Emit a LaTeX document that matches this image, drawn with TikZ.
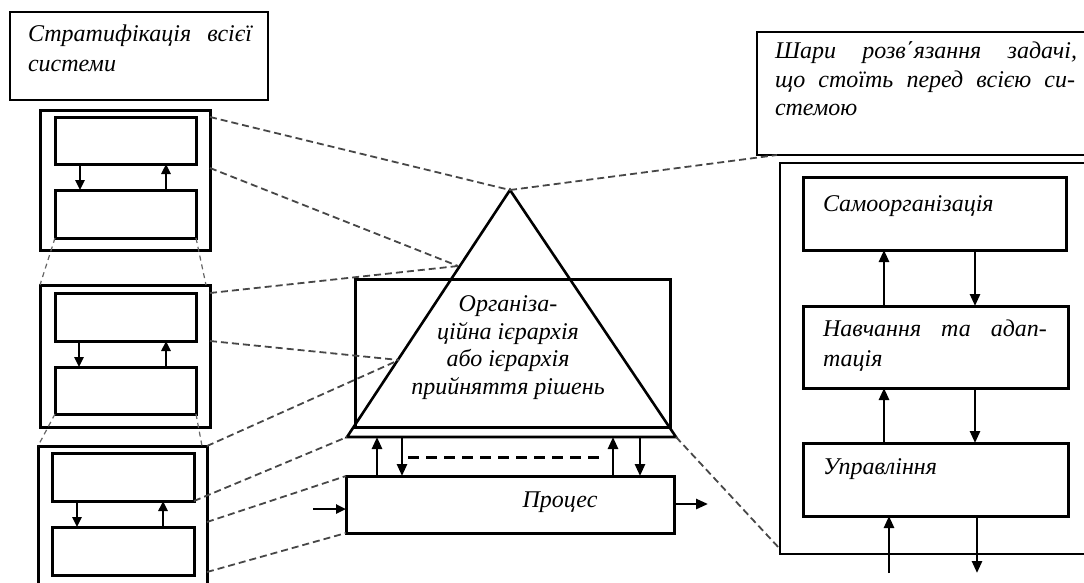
\documentclass[tikz,border=0pt]{standalone}
\usepackage{fontspec}
\setmainfont{Liberation Serif}
\usetikzlibrary{arrows.meta,calc}
\begin{document}
\begin{tikzpicture}[x=1pt,y=-1pt,
  thickbox/.style={draw, line width=3pt, inner sep=0pt, outer sep=0pt, anchor=north west},
  thinbox/.style={draw, line width=1.6pt, inner sep=0pt, outer sep=0pt, anchor=north west},
  conn/.style={line width=2.6pt, -{Triangle[length=12pt,width=10pt]}},
  sconn/.style={line width=2.4pt, -{Triangle[length=10pt,width=9pt]}},
  guide/.style={draw=black!72, line width=1.8pt, dash pattern=on 7pt off 4pt},
  sguide/.style={draw=black!60, line width=1.2pt, dash pattern=on 5pt off 4pt},
  lbl/.style={font=\fontsize{24}{28}\selectfont\itshape, inner sep=0pt, outer sep=0pt}]
\useasboundingbox (0,0) rectangle (1084,582);

% ---------- left column ----------
\node[thinbox, minimum width=258pt, minimum height=88pt] (ltxt) at (10,12) {};
\node[lbl, anchor=base west] (ltxt1) at (28,41) {\makebox[224pt][s]{Стратифікація всієї}};
\node[lbl, anchor=base west] (ltxt2) at (28,71) {системи};

\node[thickbox, minimum width=170pt, minimum height=140pt] (L1) at (40,110) {};
\node[thickbox, minimum width=141pt, minimum height=47pt] (L1a) at (55,117) {};
\node[thickbox, minimum width=141pt, minimum height=48pt] (L1b) at (55,190) {};

\node[thickbox, minimum width=170pt, minimum height=142pt] (L2) at (40,285) {};
\node[thickbox, minimum width=141pt, minimum height=48pt] (L2a) at (55,293) {};
\node[thickbox, minimum width=141pt, minimum height=47pt] (L2b) at (55,367) {};

\node[thickbox, minimum width=169pt, minimum height=150pt] (L3) at (38,446) {};
\node[thickbox, minimum width=142pt, minimum height=48pt] (L3a) at (52,453) {};
\node[thickbox, minimum width=142pt, minimum height=48pt] (L3b) at (52,527) {};

\foreach \b/\dx/\ux in {1/25/111, 2/24/111, 3/25/111}{
  \draw[sconn] ([xshift=\dx pt]L\b a.south west) -- ([xshift=\dx pt]L\b a.south west |- L\b b.north);
  \draw[sconn] ([xshift=\ux pt]L\b b.north west) -- ([xshift=\ux pt]L\b b.north west |- L\b a.south);
}

\draw[sguide] (L1b.south west) -- (L2.north west);
\draw[sguide] (L1b.south east) -- ([xshift=-4pt]L2.north east);
\draw[sguide] (L2b.south west) -- (L3.north west);
\draw[sguide] (L2b.south east) -- ([xshift=-5pt]L3.north east);

% ---------- centre ----------
\coordinate (apex) at (510,190);
\coordinate (tbl) at (347,437);
\coordinate (tbr) at (676,437);
\coordinate (t1) at (458,266);
\coordinate (t2) at (399,360);
\node[thickbox, minimum width=315pt, minimum height=148pt] (C) at (355,279) {};
\draw[line width=2.6pt, line join=miter] (apex) -- (tbl) -- (tbr) -- cycle;

\node[lbl, anchor=base] (c1) at (508,311) {Організа-};
\node[lbl, anchor=base] (c2) at (508,339) {ційна ієрархія};
\node[lbl, anchor=base] (c3) at (508,366) {або ієрархія};
\node[lbl, anchor=base] (c4) at (508,394) {прийняття рішень};

\node[thickbox, minimum width=328pt, minimum height=57pt] (P) at (346,476) {};
\node[lbl, anchor=base] (p1) at (560,507) {Процес};

\draw[conn] ([xshift=31pt]P.north west) -- ([xshift=31pt]P.north west |- tbl);
\draw[conn] ([xshift=56pt]P.north west |- tbl) -- ([xshift=56pt]P.north west);
\draw[conn] ([xshift=267pt]P.north west) -- ([xshift=267pt]P.north west |- tbl);
\draw[conn] ([xshift=294pt]P.north west |- tbl) -- ([xshift=294pt]P.north west);
\draw[line width=3pt, dash pattern=on 11pt off 7pt] ([xshift=62pt,yshift=19pt]P.north west) -- ([xshift=257pt,yshift=19pt]P.north west);
\coordinate (pin) at (313,509);
\draw[sconn] (pin) -- (pin -| P.west);
\draw[conn] ([yshift=-28pt]P.north east) -- ++(34,0);

% ---------- right column ----------
\node[thinbox, minimum width=331pt, minimum height=123pt] (rtxt) at (757,32) {};
\node[lbl, anchor=base west] (r1) at (775,58) {\makebox[302pt][s]{Шари \ розв΄язання \ задачі,}};
\node[lbl, anchor=base west] (r2) at (775,87) {\makebox[300pt][s]{що стоїть перед всією си-}};
\node[lbl, anchor=base west] (r3) at (775,115) {стемою};

\node[thinbox, minimum width=308pt, minimum height=391pt] (R) at (780,163) {};
\node[thickbox, minimum width=263pt, minimum height=73pt] (R1) at (803,177) {};
\node[thickbox, minimum width=265pt, minimum height=82pt] (R2) at (803,306) {};
\node[thickbox, minimum width=265pt, minimum height=73pt] (R3) at (803,443) {};
\node[lbl, anchor=base west] (s1) at (823,211) {Самоорганізація};
\node[lbl, anchor=base west] (s2) at (823,336) {\makebox[224pt][s]{Навчання \ та \ адап-}};
\node[lbl, anchor=base west] (s3) at (823,366) {тація};
\node[lbl, anchor=base west] (s4) at (823,474) {Управління};

\draw[conn] ([xshift=81pt]R2.north west) -- ([xshift=81pt]R2.north west |- R1.south);
\draw[conn] ([xshift=172pt]R1.south west) -- ([xshift=172pt]R1.south west |- R2.north);
\draw[conn] ([xshift=81pt]R3.north west) -- ([xshift=81pt]R3.north west |- R2.south);
\draw[conn] ([xshift=172pt]R2.south west) -- ([xshift=172pt]R2.south west |- R3.north);
\coordinate (rin) at (889,573);
\coordinate (rout) at (977,573);
\draw[conn] (rin) -- (rin |- R3.south);
\draw[conn] (rout |- R3.south) -- (rout);

% ---------- guides ----------
\draw[guide] ([yshift=-7pt]L1.north east) -- (apex);
\draw[guide] ([yshift=-4pt]L1a.south east -| L1.east) -- (t1);
\draw[guide] (L2a.north east -| L2.east) -- (t1);
\draw[guide] (L2a.south east -| L2.east) -- (t2);
\draw[guide] (L3.north east) -- (t2);
\draw[guide] (L3a.south east) -- (tbl);
\draw[guide] ([yshift=5pt]L3b.north east -| L3.east) -- (P.north west);
\draw[guide] ([yshift=3pt]L3b.south east -| L3.east) -- (P.south west);
\draw[guide] (apex) -- ([xshift=20pt]rtxt.south west);
\draw[guide] (tbr) -- ([yshift=5pt]R.south west);
\end{tikzpicture}
\end{document}
